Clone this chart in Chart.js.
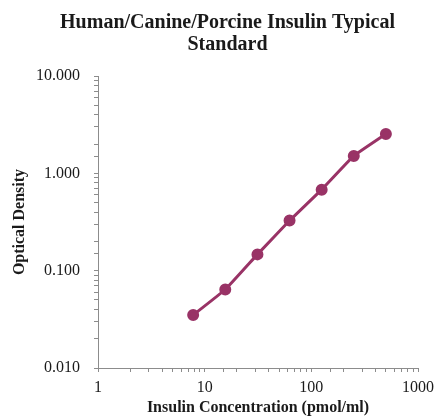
<!DOCTYPE html>
<html>
<head>
<meta charset="utf-8">
<script src="https://cdn.jsdelivr.net/npm/chart.js@4"></script>
<style>
  body { margin: 0; background: #fff; }
</style>
</head>
<body>
<canvas id="my-chart" width="435" height="417"></canvas>
<script>
'use strict'

// standard curve points
let concentrations = [7.8, 15.6, 31.25, 62.5, 125, 250, 500];
let odValues = [0.035, 0.064, 0.147, 0.327, 0.68, 1.51, 2.54];

let xMajorTicks = [1, 10, 100, 1000];
let yMajorTicks = [0.01, 0.1, 1, 10];

let chartContext = document.getElementById('my-chart').getContext('2d');

let serif = "'Liberation Serif', 'Times New Roman', serif";
let axisColor = '#8c8c8c';

function isMajor(list, v) {
  return list.some(t => Math.abs(t - v) / t < 1e-6);
}

let points = [];
for (let i = 0; i < concentrations.length; i++) {
  points.push({ x: concentrations[i], y: odValues[i] });
}

let chartConfig = {
  type: 'line',
  data: {
    datasets: [{
      label: 'Standard',
      data: points,
      borderColor: '#993366',
      backgroundColor: '#993366',
      borderWidth: 3,
      pointRadius: 4.5,
      pointHoverRadius: 4.5,
      tension: 0.1,
    }],
  },
  options: {
    responsive: false,
    animation: false,
    // negative right pad just pushes the title centre a bit right
    layout: { padding: { top: 0, right: -10, bottom: 0, left: 10 } },
    plugins: {
      legend: { display: false },
      tooltip: { enabled: false },
      title: {
        display: true,
        text: ['Human/Canine/Porcine Insulin Typical', 'Standard'],
        color: '#1a1a1a',
        font: { family: serif, size: 20, weight: 'bold', lineHeight: 1.1 },
        padding: { top: 12, bottom: 20 },
      },
    },
    scales: {
      x: {
        type: 'logarithmic',
        min: 1,
        max: 1000,
        border: { color: axisColor, width: 1 },
        grid: { drawOnChartArea: false, drawTicks: true, tickLength: 4, color: axisColor },
        ticks: {
          autoSkip: false,
          maxRotation: 0,
          color: '#1a1a1a',
          padding: 6,
          font: { family: serif, size: 16 },
          callback: function (value) {
            return isMajor(xMajorTicks, value) ? String(value) : '';
          },
        },
        title: {
          display: true,
          text: 'Insulin Concentration (pmol/ml)',
          color: '#1a1a1a',
          font: { family: serif, size: 16, weight: 'bold' },
          padding: { top: 5, bottom: 0 },
        },
        afterFit: function (scale) {
          scale.height = 49;
          scale.paddingRight = 17;
        },
      },
      y: {
        type: 'logarithmic',
        min: 0.01,
        max: 10,
        border: { color: axisColor, width: 1 },
        grid: { drawOnChartArea: false, drawTicks: true, tickLength: 4, color: axisColor },
        ticks: {
          autoSkip: false,
          color: '#1a1a1a',
          padding: 14,
          font: { family: serif, size: 16 },
          callback: function (value) {
            return isMajor(yMajorTicks, value) ? Number(value).toFixed(3) : '';
          },
        },
        title: {
          display: true,
          text: 'Optical Density',
          color: '#1a1a1a',
          font: { family: serif, size: 16, weight: 'bold' },
          padding: { top: 0, bottom: 4 },
        },
        afterFit: function (scale) {
          scale.width = 88;
        },
      },
    },
  },
};

let myChart = new Chart(chartContext, chartConfig);
</script>
</body>
</html>
